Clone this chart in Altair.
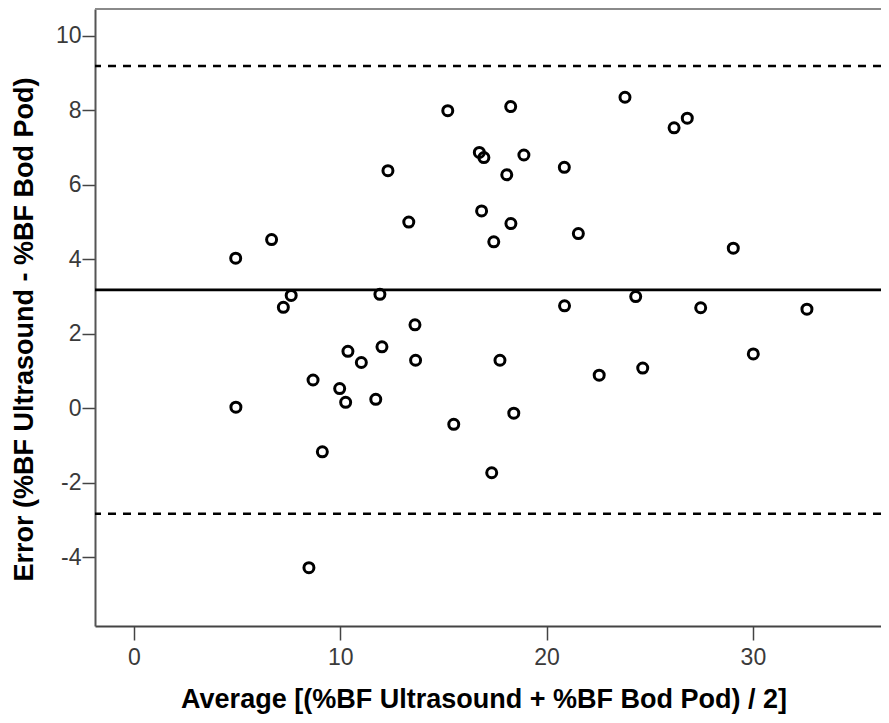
import altair as alt
import pandas as pd

# Bland-Altman data
avg = [4.93, 4.94, 6.67, 7.24, 7.62, 8.68, 8.48, 9.13, 9.97, 10.26,
       10.37, 11.02, 11.72, 11.92, 12.02, 12.31, 13.32, 13.62, 13.65, 15.21,
       15.50, 16.74, 16.85, 16.96, 17.34, 17.44, 17.74, 18.07, 18.26, 18.27,
       18.41, 18.90, 20.86, 20.87, 21.54, 22.55, 23.80, 24.32, 24.66, 26.18,
       26.82, 27.47, 29.05, 30.02, 32.62]
err = [4.03, 0.03, 4.53, 2.71, 3.03, 0.76, -4.28, -1.17, 0.53, 0.16,
       1.53, 1.23, 0.24, 3.06, 1.65, 6.38, 5.00, 2.24, 1.29, 7.99,
       -0.43, 6.87, 5.30, 6.73, -1.73, 4.47, 1.29, 6.27, 8.10, 4.96,
       -0.13, 6.80, 6.47, 2.75, 4.69, 0.89, 8.35, 3.00, 1.08, 7.53,
       7.79, 2.70, 4.30, 1.46, 2.66]

mean_line = [3.18]
limit_lines = [9.19, -2.83]

x_ticks = [0, 10, 20, 30]
y_ticks = [-4, -2, 0, 2, 4, 6, 8, 10]

x_title = "Average [(%BF Ultrasound + %BF Bod Pod) / 2]"
y_title = "Error (%BF Ultrasound - %BF Bod Pod)"

df = pd.DataFrame({"avg": avg, "err": err})
mean_df = pd.DataFrame({"v": mean_line})
lim_df = pd.DataFrame({"v": limit_lines})

W, H = 786, 617
xs = alt.Scale(domain=[-1.89, 36.21], nice=False, zero=False)
ys = alt.Scale(domain=[-5.845, 10.72], nice=False, zero=False)

FONT = "Liberation Sans"

x_axis = alt.Axis(values=x_ticks, title=x_title, grid=False,
                  labelExpr="'' + datum.value",
                  domainColor="#444", domainWidth=2,
                  tickColor="#444", tickWidth=1.5, tickSize=14,
                  labelFont=FONT, labelFontSize=23, labelColor="#3a3a3a",
                  labelPadding=6, labelFlush=False, labelOverlap=False,
                  titleFont=FONT, titleFontSize=27, titleFontWeight="bold",
                  titleColor="black", titleX=388.5, titleY=81.3,
                  titleBaseline="alphabetic", titleAlign="center")

y_axis = alt.Axis(values=y_ticks, title=y_title, grid=False,
                  labelExpr="'' + datum.value",
                  domainColor="#555", domainWidth=2,
                  tickColor="#444", tickWidth=1.5, tickSize=13,
                  labelFont=FONT, labelFontSize=23, labelColor="#3a3a3a",
                  labelPadding=1, labelFlush=False, labelOverlap=False,
                  titleFont=FONT, titleFontSize=27, titleFontWeight="bold",
                  titleColor="black", titleAngle=270, titleX=-62.7, titleY=320,
                  titleBaseline="alphabetic", titleAlign="center")

pts = alt.Chart(df).mark_point(
    shape="circle", filled=False, size=100, strokeWidth=3,
    color="black", opacity=1
).encode(
    x=alt.X("avg:Q", scale=xs, axis=x_axis),
    y=alt.Y("err:Q", scale=ys, axis=y_axis),
)

mean_rule = alt.Chart(mean_df).mark_rule(color="black", strokeWidth=2.6).encode(
    y=alt.Y("v:Q", scale=ys)
)

lim_rule = alt.Chart(lim_df).mark_rule(
    color="black", strokeWidth=2.6, strokeDash=[8, 7]
).encode(
    y=alt.Y("v:Q", scale=ys)
)

top_border = alt.Chart(pd.DataFrame({"a": [0]})).mark_rule(
    color="#8a8a8a", strokeWidth=2
).encode(y=alt.value(0))

chart = alt.layer(top_border, lim_rule, mean_rule, pts).properties(
    width=W, height=H,
    autosize="none",
    padding={"left": 87, "top": 1, "right": 0, "bottom": 90},
).configure_view(stroke=None)

chart.save("out.html", embed_options={"renderer": "svg", "actions": False})
